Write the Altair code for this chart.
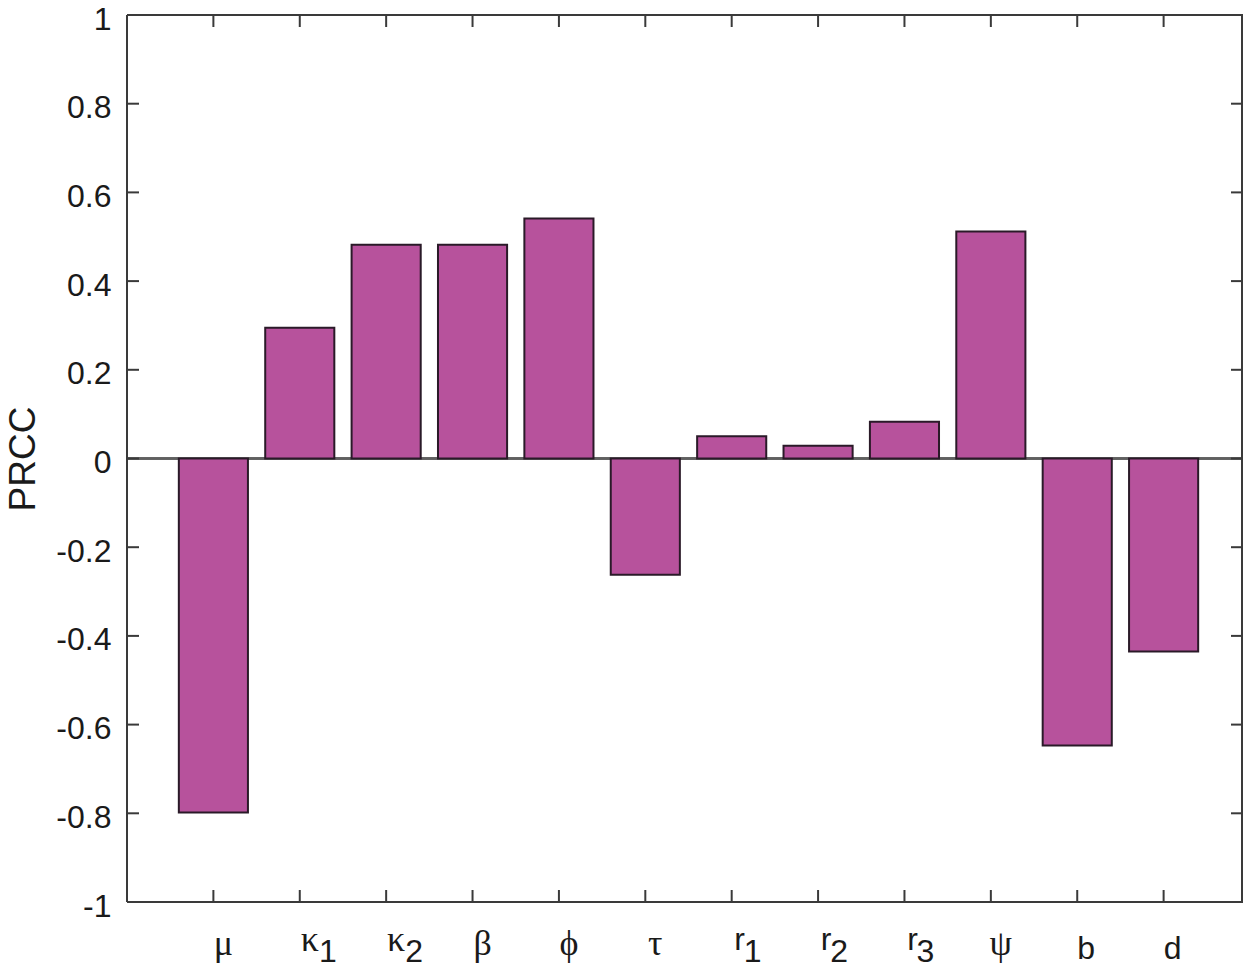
import altair as alt
import pandas as pd

# ---- data ----
base_labels = ["μ", "κ", "κ", "β", "ϕ", "τ", "r", "r", "r", "ψ", "b", "d"]
sub_labels = ["", "1", "2", "", "", "", "1", "2", "3", "", "", ""]
prcc = [-0.798, 0.295, 0.482, 0.482, 0.541, -0.262, 0.050, 0.029, 0.083, 0.512, -0.647, -0.435]
y_ticks = [-1, -0.8, -0.6, -0.4, -0.2, 0, 0.2, 0.4, 0.6, 0.8, 1]

n = len(prcc)
pos = list(range(1, n + 1))
latin = set("abcdefghijklmnopqrstuvwxyz")
df = pd.DataFrame({
    "pos": pos,
    "x0": [p - 0.4 for p in pos],
    "x1": [p + 0.4 for p in pos],
    "val": prcc,
    "base": base_labels,
    "sub": sub_labels,
    "zero": [0.0] * n,
    "greek": [b not in latin for b in base_labels],
    "hassub": [s != "" for s in sub_labels],
})
ticks_df = pd.DataFrame({"t": y_ticks})

# page is 1252 wide with 8px margins: plot area may reach x=1244 at most
W, H = 1116, 887
UNIT = 1123 / 13.0          # pixels per category step in the reference
XMAX = W / UNIT
TICK = 12
AX = "#3a3a3a"
TXT = "#1a1a1a"
SANS = "Liberation Sans"
SERIF = "Liberation Serif"
FS = 32
GFS = 36

xs = alt.Scale(domain=[0, XMAX], nice=False, zero=False)
ys = alt.Scale(domain=[-1, 1], nice=False, zero=False)

base = alt.Chart(df)

zero_line = base.mark_rule(color="#606060", strokeWidth=1.5).encode(
    y=alt.datum(0, scale=ys), x=alt.value(0), x2=alt.value(W)
)

bars = base.mark_bar(color="#B7529C", stroke="#2a1a28", strokeWidth=2).encode(
    x=alt.X("x0:Q", scale=xs, axis=None),
    x2="x1:Q",
    y=alt.Y("val:Q", scale=ys, title="PRCC",
            axis=alt.Axis(values=y_ticks, domain=False, ticks=False, grid=False,
                          labelFont=SANS, labelFontSize=FS, labelColor=TXT,
                          labelPadding=16, labelOffset=4,
                          labelExpr="datum.value < 0 ? '-' + format(-datum.value, '~g') : format(datum.value, '~g')",
                          titleFont=SANS, titleFontSize=37, titleFontWeight="normal",
                          titleColor=TXT, titleX=-93, titleY=H / 2,
                          titleBaseline="alphabetic", titleAngle=270, titleAlign="center")),
    y2="zero:Q",
)

# frame
frame_top = base.mark_rule(color=AX, strokeWidth=2).encode(
    x=alt.value(0), x2=alt.value(W), y=alt.value(0))
frame_bot = base.mark_rule(color=AX, strokeWidth=2).encode(
    x=alt.value(0), x2=alt.value(W), y=alt.value(H))
frame_left = base.mark_rule(color=AX, strokeWidth=2).encode(
    y=alt.value(0), y2=alt.value(H), x=alt.value(0))
frame_right = base.mark_rule(color=AX, strokeWidth=2).encode(
    y=alt.value(0), y2=alt.value(H), x=alt.value(W - 1))

# inward ticks
top_ticks = base.mark_rule(color=AX, strokeWidth=2).encode(
    x=alt.X("pos:Q", scale=xs), y=alt.value(0), y2=alt.value(TICK))
bot_ticks = base.mark_rule(color=AX, strokeWidth=2).encode(
    x=alt.X("pos:Q", scale=xs), y=alt.value(H - TICK), y2=alt.value(H))
left_ticks = alt.Chart(ticks_df).mark_rule(color=AX, strokeWidth=2).encode(
    y=alt.Y("t:Q", scale=ys), x=alt.value(0), x2=alt.value(TICK))
right_ticks = alt.Chart(ticks_df).mark_rule(color=AX, strokeWidth=2).encode(
    y=alt.Y("t:Q", scale=ys), x=alt.value(W - TICK), x2=alt.value(W - 1))

# x tick labels
greek_lbl = base.transform_filter("datum.greek && !datum.hassub").mark_text(
    font=SERIF, fontSize=GFS, color=TXT, baseline="alphabetic", align="center", dx=10
).encode(x=alt.X("pos:Q", scale=xs), y=alt.value(940), text="base:N")

greek_sub_base = base.transform_filter("datum.greek && datum.hassub").mark_text(
    font=SERIF, fontSize=GFS, color=TXT, baseline="alphabetic", align="center", dx=10
).encode(x=alt.X("pos:Q", scale=xs), y=alt.value(936), text="base:N")

latin_plain = base.transform_filter("!datum.greek && !datum.hassub").mark_text(
    font=SANS, fontSize=FS, color=TXT, baseline="alphabetic", align="center", dx=9
).encode(x=alt.X("pos:Q", scale=xs), y=alt.value(944), text="base:N")

latin_sub_base = base.transform_filter("!datum.greek && datum.hassub").mark_text(
    font=SANS, fontSize=FS, color=TXT, baseline="alphabetic", align="center", dx=8
).encode(x=alt.X("pos:Q", scale=xs), y=alt.value(935), text="base:N")

sub_k = base.transform_filter("datum.greek && datum.hassub").mark_text(
    font=SANS, fontSize=FS, color=TXT, baseline="alphabetic", align="center", dx=28
).encode(x=alt.X("pos:Q", scale=xs), y=alt.value(947), text="sub:N")

sub_r = base.transform_filter("!datum.greek && datum.hassub").mark_text(
    font=SANS, fontSize=FS, color=TXT, baseline="alphabetic", align="center", dx=21
).encode(x=alt.X("pos:Q", scale=xs), y=alt.value(947), text="sub:N")

chart = alt.layer(
    zero_line, bars, frame_top, frame_bot, frame_left, frame_right,
    top_ticks, bot_ticks, left_ticks, right_ticks,
    greek_lbl, greek_sub_base, latin_plain, latin_sub_base, sub_k, sub_r
).properties(
    width=W, height=H,
    autosize=alt.AutoSizeParams(type="none"),
    padding={"left": 119, "top": 7, "right": 0, "bottom": 61},
    background="white",
).configure_view(stroke=None)

chart.save("out.html", embed_options={"renderer": "svg", "actions": False})
